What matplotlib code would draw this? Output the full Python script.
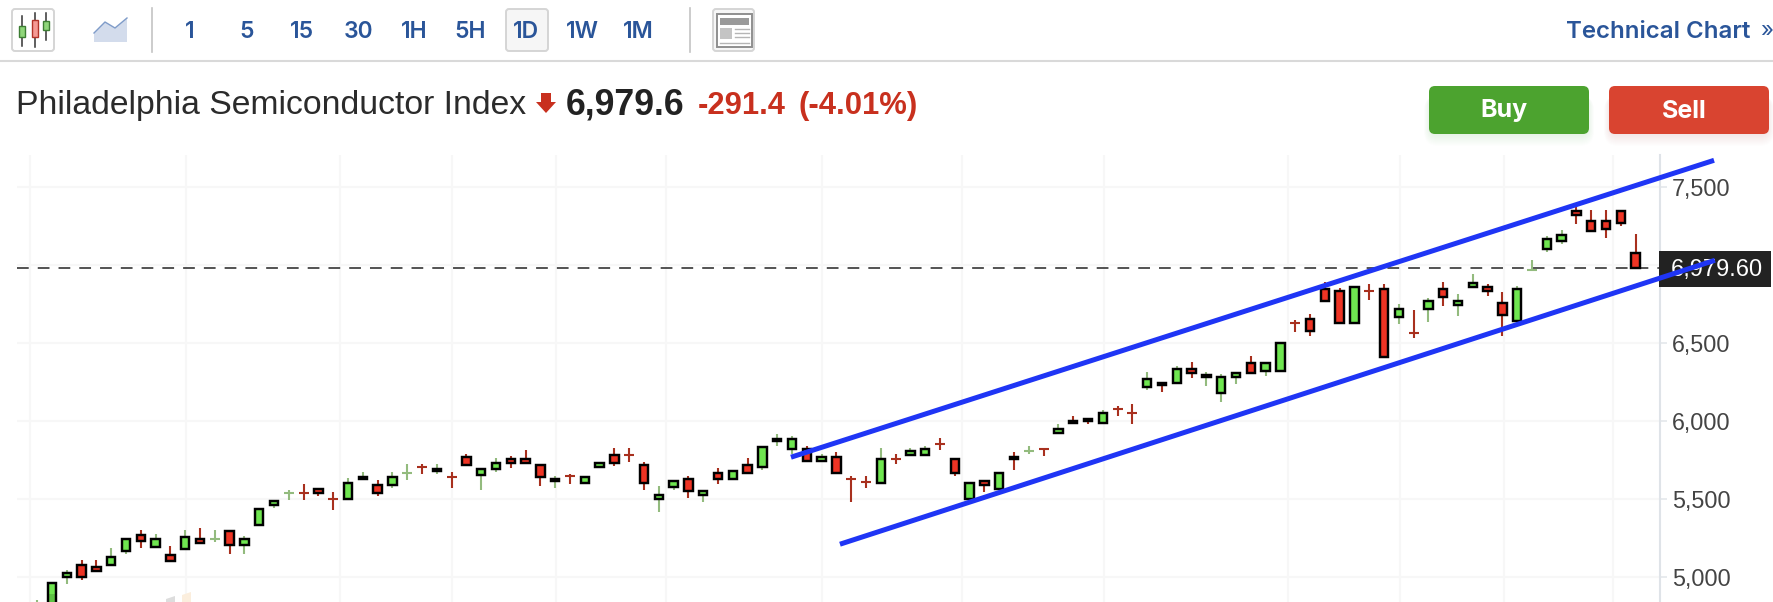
import numpy as np
import matplotlib
matplotlib.use("Agg")
import matplotlib.pyplot as plt
from matplotlib.patches import Rectangle, FancyBboxPatch, Polygon

W, H = 1774, 602
opens = [4700,4800,5000,5077,5064,5077,5167,5269,5192,5141,5180,5244,5244,5295,5205,5333,5461,5540,5540,5563,5502,5499,5627,5589,5589,5668,5706,5679,5642,5768,5653,5691,5755,5755,5717,5615,5647,5602,5704,5781,5783,5717,5499,5576,5627,5525,5666,5627,5717,5704,5871,5819,5819,5743,5768,5630,5608,5602,5758,5781,5781,5851,5755,5500,5615,5563,5768,5809,5822,5922,5999,6011,5986,6078,6052,6216,6242,6242,6331,6280,6178,6280,6370,6319,6319,6628,6651,6843,6831,6626,6833,6843,6664,6564,6715,6843,6741,6856,6856,6754,6639,6969,7099,7151,7343,7279,7279,7343,7074]
highs = [4853,4962,5045,5109,5109,5186,5244,5301,5276,5199,5301,5314,5301,5295,5263,5435,5487,5557,5595,5563,5544,5634,5672,5621,5672,5723,5723,5723,5672,5787,5691,5762,5775,5813,5717,5647,5659,5640,5730,5826,5826,5736,5583,5615,5647,5551,5698,5679,5762,5832,5915,5903,5839,5787,5800,5647,5647,5826,5787,5826,5839,5890,5755,5602,5615,5666,5800,5839,5826,5979,6031,6011,6069,6095,6107,6312,6242,6351,6376,6312,6299,6306,6415,6370,6498,6645,6683,6888,6850,6856,6875,6875,6747,6709,6786,6888,6811,6939,6876,6824,6863,7029,7183,7221,7370,7349,7349,7343,7195]
lows = [4700,4780,4956,4981,5032,5077,5148,5186,5192,5103,5180,5218,5224,5148,5148,5333,5442,5493,5493,5519,5429,5499,5627,5519,5570,5621,5659,5659,5570,5717,5557,5672,5698,5730,5583,5570,5595,5602,5704,5711,5736,5557,5416,5557,5506,5480,5595,5627,5666,5685,5839,5787,5743,5743,5666,5480,5570,5602,5723,5781,5781,5813,5647,5500,5544,5563,5685,5787,5775,5922,5986,5979,5986,6031,5979,6197,6184,6242,6274,6223,6120,6236,6306,6287,6319,6568,6543,6767,6626,6626,6773,6408,6619,6530,6632,6735,6671,6856,6799,6543,6639,6969,7080,7131,7259,7215,7170,7247,6979.6]
closes = [4830,4962,5026,5000,5039,5128,5244,5231,5244,5103,5256,5218,5244,5205,5244,5435,5487,5540,5539,5538,5501,5602,5640,5538,5640,5668,5705,5691,5641,5717,5691,5730,5730,5730,5640,5627,5646,5640,5730,5730,5782,5602,5525,5615,5551,5551,5627,5679,5666,5832,5883,5883,5743,5768,5666,5629,5607,5755,5757,5807,5819,5850,5666,5602,5589,5666,5755,5809,5821,5947,5986,5999,6050,6077,6051,6267,6229,6331,6306,6293,6280,6306,6306,6370,6498,6627,6575,6767,6626,6856,6832,6408,6715,6563,6767,6792,6767,6882,6831,6677,6843,6969,7163,7189,7317,7215,7227,7266,6979.6]
first_index = -1
y_ticks = [5000, 5500, 6000, 6500, 7000, 7500]
y_labels = ["5,000", "5,500", "6,000", "6,500", "", "7,500"]
grid_x = [-1.49, 9.05, 19.46, 27.03, 34.05, 41.49, 52.03, 61.49, 71.08, 83.51, 91.08, 98.11, 105.47]
last_price = 6979.6
upper_x, upper_v = [49.93, 112.3], [5768, 7669]
lower_x, lower_v = [53.24, 112.36], [5211, 7029]
periods = ["1", "5", "15", "30", "1H", "5H", "1D", "1W", "1M"]

GREEN, RED = "#6fe650", "#ee3424"
GW, RW = "#93bb7e", "#a8301e"
BLUE = "#1f35f5"
NAVY = "#2a5599"
SANS = ["Liberation Sans", "DejaVu Sans"]
INTER = ["Inter", "Liberation Sans"]

fig = plt.figure(figsize=(W / 100, H / 100), dpi=100, facecolor="white")

# pixel overlay for the page furniture
px = fig.add_axes([0, 0, 1, 1], zorder=0)
px.set_xlim(0, W); px.set_ylim(H, 0); px.axis("off")

def rbox(x0, y0, x1, y1, r, **kw):
    p = FancyBboxPatch((x0 + r, y0 + r), x1 - x0 - 2 * r, y1 - y0 - 2 * r,
                       boxstyle=f"round,pad={r},rounding_size={r}", **kw)
    px.add_patch(p)
    return p

# toolbar
px.plot([0, W], [61, 61], color="#d9d9d9", lw=1.5, solid_capstyle="butt")
for xs in (152, 690):
    px.plot([xs, xs], [8, 52], color="#c4c4c4", lw=1.2)
rbox(12, 9, 54, 51, 3, fc="white", ec="#d5d5d5", lw=1.4)
rbox(506, 9, 548, 51, 3, fc="#f6f6f6", ec="#d5d5d5", lw=1.4)
rbox(713, 9, 754, 51, 3, fc="#f6f6f6", ec="#d5d5d5", lw=1.4)
for cx, wt, wb, bt, bb, fc, ec in [(22.5, 16, 46, 26, 37, "#8fd67a", "#3d7d33"),
                                   (35, 13, 47, 20, 37, "#f59a94", "#b23328"),
                                   (46.5, 13, 40, 21, 30, "#8fd67a", "#3d7d33")]:
    px.plot([cx, cx], [wt, wb], color="#333333", lw=1.1)
    px.add_patch(Rectangle((cx - 3, bt), 6, bb - bt, fc=fc, ec=ec, lw=1, zorder=3))
px.add_patch(Polygon([(94, 33), (105, 22), (115, 28), (127, 18), (127, 42), (94, 42)], fc="#d3dcec", ec="none"))
px.plot([94, 105, 115, 127], [33, 22, 28, 18], color="#7f9cc9", lw=1)
px.add_patch(Rectangle((717, 14), 35, 33, fc="white", ec="#8f8f8f", lw=1.4))
px.add_patch(Rectangle((720, 18), 29, 7, fc="#9a9a9a", ec="none"))
px.add_patch(Rectangle((720, 28), 12, 11, fc="#c4c4c4", ec="none"))
for yy in (29, 33, 37):
    px.plot([735, 749], [yy, yy], color="#b5b5b5", lw=1)
px.plot([720, 749], [43, 43], color="#b5b5b5", lw=1)
for lab, cx in zip(periods, [190, 246.5, 302, 358.5, 414, 470.5, 526, 582.5, 638]):
    px.text(cx, 32, lab, color=NAVY, fontsize=16.5, family=INTER, weight="semibold", ha="center", va="center")
px.text(1566, 32, "Technical Chart", color=NAVY, fontsize=17.3, family=INTER, weight="semibold", ha="left", va="center")
px.text(1760, 31, "»", color=NAVY, fontsize=16, family=INTER, ha="left", va="center")

# heading
px.text(16, 114, "Philadelphia Semiconductor Index", color="#2b2b2b", fontsize=24.3, family=SANS, va="baseline")
px.add_patch(Polygon([(541, 93), (551, 93), (551, 102), (556, 102), (546, 113), (536, 102), (541, 102)], fc="#c8301e", ec="none"))
px.text(566, 114, "6,979.6", color="#222222", fontsize=25.7, family=SANS, weight="bold", va="baseline")
px.text(698, 114, "-291.4", color="#c8301e", fontsize=22.2, family=SANS, weight="bold", va="baseline")
px.text(799, 114, "(-4.01%)", color="#c8301e", fontsize=22.3, family=SANS, weight="bold", va="baseline")

# buttons
for x0, x1, col, lab, cx in [(1429, 1589, "#4ca32f", "Buy", 1504),
                             (1609, 1769, "#d94430", "Sell", 1684)]:
    for grow in range(16, 0, -1):
        rbox(x0 + 3 - grow * 0.5, 96, x1 - 3 + grow * 0.5, 130 + grow, 6 + grow * 0.5,
             fc=col, ec="none", alpha=0.009)
    rbox(x0, 86, x1, 134, 6, fc=col, ec="none")
    px.text(cx, 111, lab, color="white", fontsize=18, family=INTER, weight="bold", ha="center", va="center")

# chart axes: candle index against index value
L, R, T, B = 17, 1660, 155, 602
ax = fig.add_axes([L / W, 1 - B / H, (R - L) / W, (B - T) / H], zorder=1)
ax.patch.set_alpha(0)
ax.set_xlim((L - 52) / 14.8, (R - 52) / 14.8)
ax.set_ylim(4841, 7703)
ax.set_axisbelow(True)
for s in ("top", "left", "bottom"):
    ax.spines[s].set_visible(False)
ax.spines["right"].set_color("#dfe3e8"); ax.spines["right"].set_linewidth(1.5)
ax.yaxis.tick_right()
ax.set_yticks(y_ticks); ax.set_yticklabels(y_labels)
ax.set_xticks(grid_x); ax.set_xticklabels([])
ax.tick_params(axis="x", length=0)
ax.tick_params(axis="y", length=5, width=1.2, color="#e4e7eb", pad=3.5, labelsize=16.8, labelcolor="#444444")
for t in ax.get_yticklabels():
    t.set_family(SANS)
ax.grid(True, color="#f7f7f7", lw=1.5)

body_w = 0.56
for i, (o, h, l, c) in enumerate(zip(opens, highs, lows, closes)):
    x = first_index + i
    up = c >= o
    wick = GW if up else RW
    ax.vlines(x, l, h, color=wick, lw=1.5, zorder=3)
    if abs(c - o) <= 1:
        ax.hlines(o, x - 0.34, x + 0.34, color=wick, lw=1.5, zorder=3)
    else:
        ax.add_patch(Rectangle((x - body_w / 2, min(o, c)), body_w, abs(c - o),
                               fc=GREEN if up else RED, ec="black", lw=1.75, zorder=4))

ax.axhline(last_price, color="#444444", lw=1.3, dashes=(6.5, 5), zorder=2.5)

# last price flag
ax.add_patch(Rectangle((1659, 251), 112, 36, transform=px.transData, fc="#222222", ec="none", zorder=6, clip_on=False))
ax.text(1717, 270, "6,979.60", transform=px.transData, color="white", fontsize=17, family=SANS,
        ha="center", va="center", zorder=7, clip_on=False)

# trend lines
for xs, vs in ((upper_x, upper_v), (lower_x, lower_v)):
    ax.plot(xs, vs, color=BLUE, lw=3.6, solid_capstyle="butt", zorder=8, clip_on=False)

# watermark fragments at the bottom edge
ax.add_patch(Polygon([(166, 599), (175, 596), (175, 602), (166, 602)], transform=px.transData, fc="#dddddd", ec="none", zorder=9))
ax.add_patch(Polygon([(182, 595), (191, 592), (191, 602), (182, 602)], transform=px.transData, fc="#fbeedd", ec="none", zorder=9))
ax.add_patch(Rectangle((49, 594), 8, 8, transform=px.transData, fc="#000000", alpha=0.15, ec="none", zorder=9))

fig.savefig("out.png", dpi=100)
